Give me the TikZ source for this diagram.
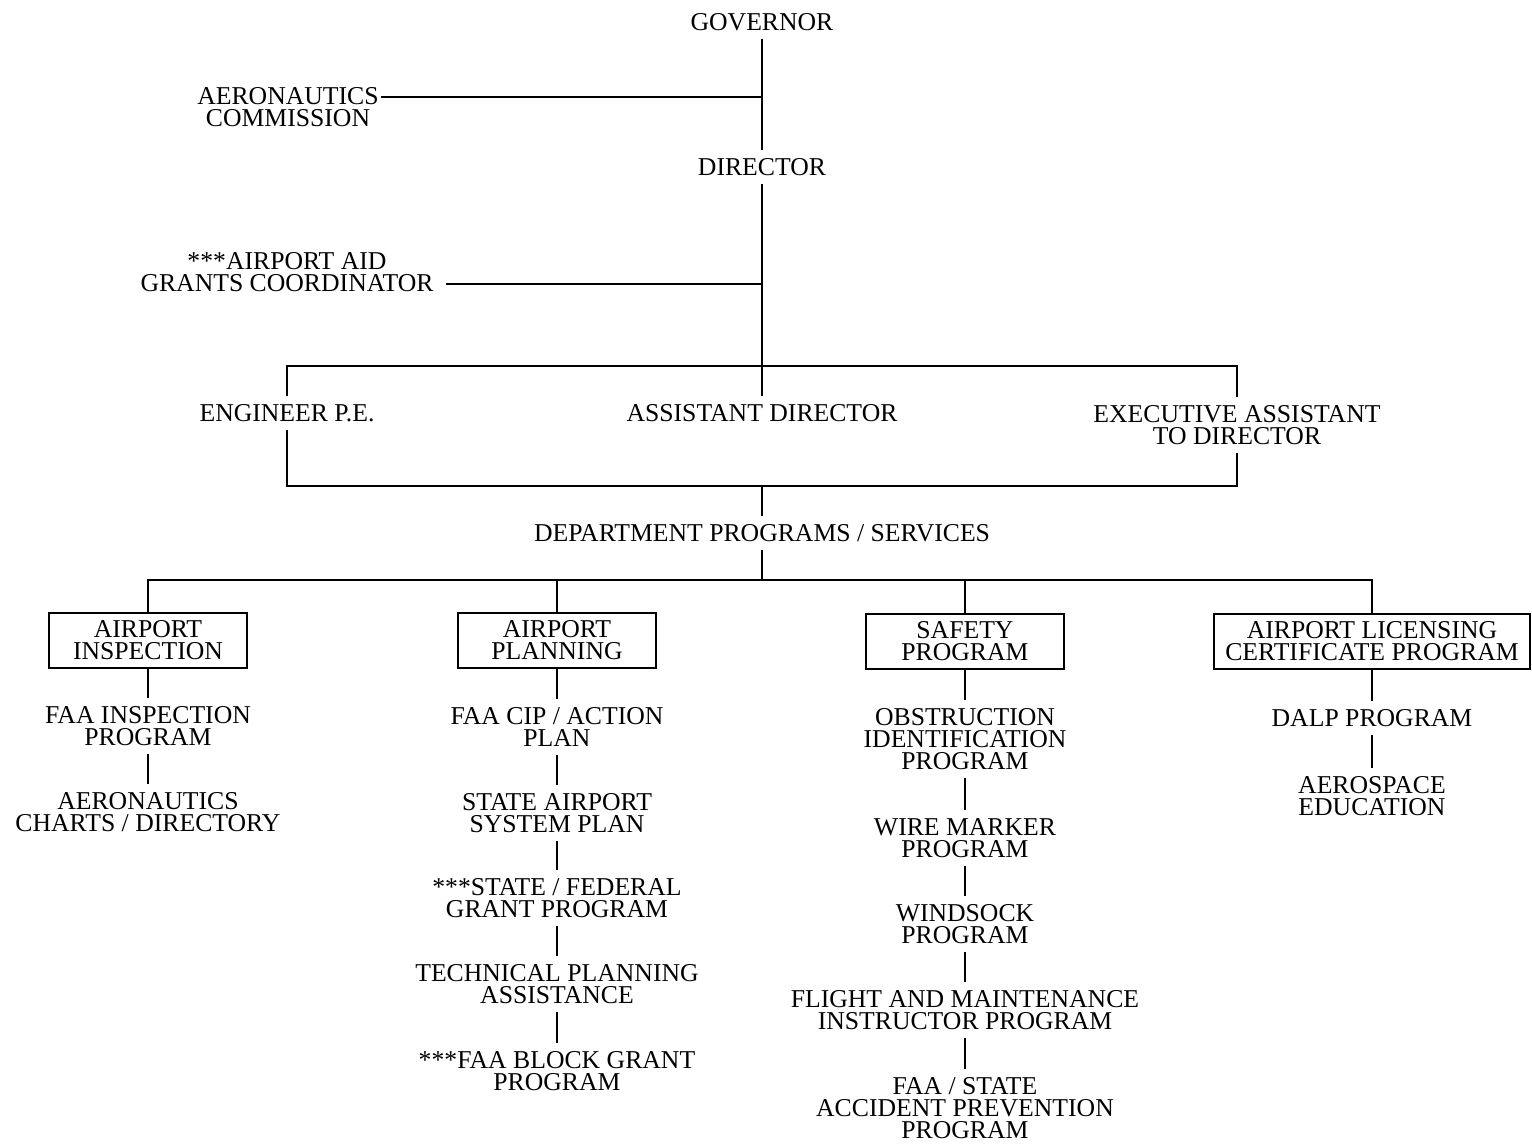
\documentclass[tikz,border=0pt]{standalone}
\usepackage{fontspec}
\setmainfont{Liberation Serif}
\begin{document}
\begin{tikzpicture}[x=0.5pt, y=-0.5pt, line width=1pt,
  lbl/.style={align=center, inner xsep=3pt, inner ysep=3.5pt,
    font=\fontsize{12.85}{11}\selectfont},
  prog/.style={lbl, draw, minimum width=99pt, minimum height=27.5pt, inner xsep=5.5pt}]
  \useasboundingbox (0,0) rectangle (1532,1144);
  % top of the chart
  \node[lbl] (gov) at (762,22) {GOVERNOR};
  \node[lbl] (dir) at (762,167) {DIRECTOR};
  \node[lbl, inner xsep=0.5pt] (aero) at (288,107) {AERONAUTICS\\COMMISSION};
  \node[lbl, inner xsep=6pt] (aid) at (287,272) {***AIRPORT AID\\GRANTS COORDINATOR};
  \node[lbl] (eng) at (287,413) {ENGINEER P.E.};
  \node[lbl] (asst) at (762,413) {ASSISTANT DIRECTOR};
  \node[lbl] (exec) at (1237,425) {EXECUTIVE ASSISTANT\\TO DIRECTOR};
  \node[lbl] (dept) at (762,533) {DEPARTMENT PROGRAMS / SERVICES};
  \coordinate (c1) at (762,97);
  \coordinate (c2) at (762,284);
  \coordinate (top) at (762,366);
  \coordinate (bot) at (762,486);
  \coordinate (hub) at (762,580);
  % programs
  \node[prog] (insp) at (148,640) {AIRPORT\\INSPECTION};
  \node[prog] (plan) at (557,640) {AIRPORT\\PLANNING};
  \node[prog] (safe) at (965,641) {SAFETY\\PROGRAM};
  \node[prog] (lic) at (1372,641) {AIRPORT LICENSING\\CERTIFICATE PROGRAM};
  \node[lbl] (faainsp) at (148,726) {FAA INSPECTION\\PROGRAM};
  \node[lbl] (charts) at (148,812) {AERONAUTICS\\CHARTS / DIRECTORY};
  \node[lbl] (cip) at (557,727) {FAA CIP / ACTION\\PLAN};
  \node[lbl] (sasp) at (557,813) {STATE AIRPORT\\SYSTEM PLAN};
  \node[lbl] (sfgrant) at (557,898) {***STATE / FEDERAL\\GRANT PROGRAM};
  \node[lbl] (tech) at (557,984) {TECHNICAL PLANNING\\ASSISTANCE};
  \node[lbl] (block) at (557,1071) {***FAA BLOCK GRANT\\PROGRAM};
  \node[lbl] (obst) at (965,739) {OBSTRUCTION\\IDENTIFICATION\\PROGRAM};
  \node[lbl] (wire) at (965,838) {WIRE MARKER\\PROGRAM};
  \node[lbl] (sock) at (965,924) {WINDSOCK\\PROGRAM};
  \node[lbl] (flight) at (965,1010) {FLIGHT AND MAINTENANCE\\INSTRUCTOR PROGRAM};
  \node[lbl] (acc) at (965,1108) {FAA / STATE\\ACCIDENT PREVENTION\\PROGRAM};
  \node[lbl] (dalp) at (1372,718) {DALP PROGRAM};
  \node[lbl] (edu) at (1372,796) {AEROSPACE\\EDUCATION};
  % lines
  \draw (gov) -- (dir);
  \draw (aero.east |- c1) -- (c1);
  \draw (aid.east |- c2) -- (c2);
  \draw (dir) -- (asst);
  \draw (eng.north) |- (top) -| (exec.north);
  \draw (eng.south) |- (bot) -| (exec.south);
  \draw (bot) -- (dept);
  \draw (dept) -- (hub);
  \draw (insp.north) |- (hub) -| (lic.north);
  \foreach \n in {plan, safe}
    \draw (\n.north) -- (\n.north |- hub);
  \foreach \a/\b in {insp/faainsp, faainsp/charts, plan/cip, cip/sasp,
      sasp/sfgrant, sfgrant/tech, tech/block, safe/obst, obst/wire,
      wire/sock, sock/flight, flight/acc, lic/dalp, dalp/edu}
    \draw (\a) -- (\b);
\end{tikzpicture}
\end{document}
